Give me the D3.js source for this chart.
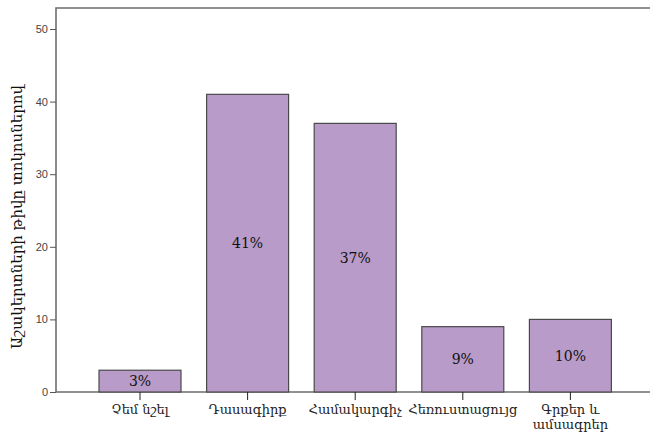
<!DOCTYPE html>
<html><head><meta charset="utf-8">
<script src="https://cdn.jsdelivr.net/npm/d3@7"></script>
<style>body{margin:0;background:#fff}</style>
</head><body>
<svg id="c" width="650" height="437"></svg>
<script>
const categories = ["Չեմ նշել", "Դասագիրք", "Համակարգիչ", "Հեռուստացույց", "Գրքեր և\nամսագրեր"];
const values = [3, 41, 37, 9, 10];
const labels = ["3%", "41%", "37%", "9%", "10%"];
const yTicks = [0, 10, 20, 30, 40, 50];
const yTitle = "Աշակերտների թիվը տոկոսներով";

(function() {
const svg = d3.select("#c");
const mLeft = 56, mTop = 8, mRight = 650, mBottom = 392;
const y = d3.scaleLinear().domain([0, 50]).range([mBottom, 29]);
const x = d3.scaleBand().domain(categories).range([73.4, 637]).paddingInner(0.238).paddingOuter(0.238);

// frame
svg.append("path").attr("d", `M${mRight},${mTop}H${mLeft}V${mBottom}H${mRight}`)
  .attr("fill", "none").attr("stroke", "#6e6e6e").attr("stroke-width", 1.6);

// bars
svg.selectAll("rect.bar").data(values).join("rect")
  .attr("x", (d, i) => x(categories[i]))
  .attr("y", d => y(d))
  .attr("width", x.bandwidth())
  .attr("height", d => y(0) - y(d))
  .attr("fill", "#b89bc8").attr("stroke", "#4a4a4a").attr("stroke-width", 1.2);

// value labels
svg.selectAll("text.val").data(values).join("text")
  .attr("x", (d, i) => x(categories[i]) + x.bandwidth() / 2)
  .attr("y", d => (y(d) + y(0)) / 2)
  .attr("dy", "0.35em").attr("text-anchor", "middle")
  .attr("font-family", "DejaVu Serif").attr("font-size", 14).attr("fill", "#111")
  .text((d, i) => labels[i]);

// y axis
const ya = svg.append("g").attr("transform", `translate(${mLeft},0)`)
  .call(d3.axisLeft(y).tickValues(yTicks).tickSize(6).tickPadding(2));
ya.select(".domain").remove();
ya.selectAll("line").attr("stroke", "#555");
ya.selectAll("text").attr("font-family", "Liberation Sans").attr("font-size", 11).attr("fill", "#444");

// x axis
const xa = svg.append("g").attr("transform", `translate(0,${mBottom})`)
  .call(d3.axisBottom(x).tickSize(8).tickFormat(""));
xa.select(".domain").remove();
xa.selectAll("line").attr("stroke", "#222");
xa.selectAll(".tick").each(function(d) {
  const lines = d.split("\n");
  const t = d3.select(this).append("text").attr("y", 22).attr("text-anchor", "middle")
    .attr("font-family", "DejaVu Serif").attr("font-size", 13).attr("fill", "#222");
  lines.forEach((l, i) => t.append("tspan").attr("x", 0).attr("dy", i === 0 ? 0 : 15).text(l));
});

// y title
svg.append("text").attr("transform", `translate(22,217) rotate(-90)`)
  .attr("text-anchor", "middle").attr("font-family", "DejaVu Serif").attr("font-size", 15)
  .attr("fill", "#111").text(yTitle);
})();
</script>
</body></html>
